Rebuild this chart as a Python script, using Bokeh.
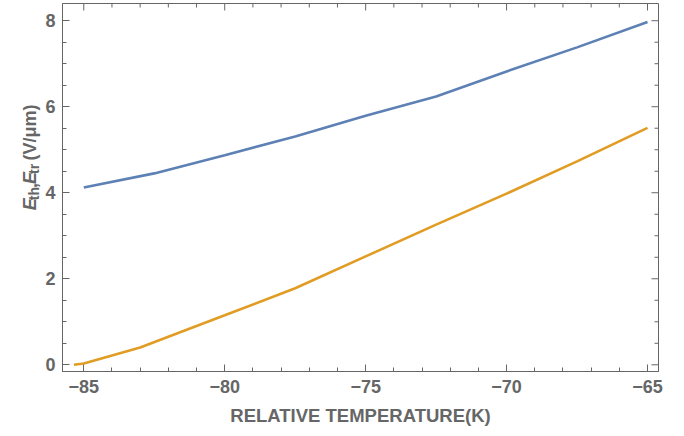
import math
from bokeh.plotting import figure
from bokeh.layouts import row
from bokeh.models import Range1d, FixedTicker, Label
from bokeh.embed import file_html
from bokeh.resources import INLINE

# ---- data ----
temp_th = [-85, -82.5, -80, -77.5, -75, -72.5, -70, -67.5, -65]
e_th = [4.12, 4.45, 4.87, 5.31, 5.79, 6.24, 6.82, 7.38, 7.97]
temp_tr = [-85.35, -85, -83, -80, -77.5, -75, -72.5, -70, -67.5, -65]
e_tr = [0.0, 0.03, 0.40, 1.15, 1.78, 2.52, 3.26, 3.98, 4.73, 5.51]

x_major = [-85, -80, -75, -70, -65]
x_labels = ["\u221285", "\u221280", "\u221275", "\u221270", "\u221265"]
x_minor = [-84, -83, -82, -81, -79, -78, -77, -76, -74, -73, -72, -71, -69, -68, -67, -66]
y_major = [0, 2, 4, 6, 8]
y_labels = ["0", "2", "4", "6", "8"]
y_minor = [0.5, 1, 1.5, 2.5, 3, 3.5, 4.5, 5, 5.5, 6.5, 7, 7.5]

x_title = "RELATIVE TEMPERATURE(K)"
# y title pieces: text, style, size
y_title = [("E", "bold italic", "18px"), ("th", "bold", "14px"), (",", "bold", "18px"),
           ("E", "bold italic", "18px"), ("tr", "bold", "14px"), ("(V/\u03bcm)", "bold", "18px")]

GRAY = "#666666"
FONT = "Liberation Sans"
BLUE = "#5E81B5"
ORANGE = "#E19C24"

X0, X1 = -85.755, -64.61
Y0, Y1 = -0.156, 8.40
W, H = 684, 436
LW = 42                              # width of the strip holding the y title
FL, FR, FT, FB = 62, 658, 3, 371     # frame edges on the page

# ---- strip with the y-axis title (its scale is plain pixels, y up) ----
lab = figure(width=LW, height=H, x_range=Range1d(0, LW), y_range=Range1d(0, H),
             x_axis_type=None, y_axis_type=None,
             output_backend="svg", toolbar_location=None,
             min_border_left=0, min_border_right=0, min_border_top=0, min_border_bottom=0)
lab.grid.visible = False
lab.outline_line_color = None
# anchor (baseline x, start y measured from the top) of each piece, page pixels
anchors = [(29.5, 245), (33.5, 233), (29.5, 218.5), (29.5, 214), (33.5, 202), (29.5, 186)]
for (txt, st, sz), (ax_, ay_) in zip(y_title, anchors):
    lab.add_layout(Label(x=ax_, y=H - ay_, text=txt, angle=math.pi / 2,
                         text_font=FONT, text_font_style=st, text_font_size=sz,
                         text_color=GRAY, text_baseline="alphabetic", text_align="left"))

# ---- main plot ----
p = figure(width=W - LW, height=H,
           x_range=Range1d(X0, X1), y_range=Range1d(Y0, Y1),
           output_backend="svg", toolbar_location=None,
           min_border_left=FL - LW, min_border_right=W - FR,
           min_border_top=FT, min_border_bottom=H - FB)
p.grid.visible = False
p.outline_line_color = GRAY
p.background_fill_color = "white"

def style_axis(ax, ticker, labels):
    ax.ticker = ticker
    ax.axis_line_color = GRAY
    ax.axis_line_width = 1
    ax.major_tick_line_color = GRAY
    ax.minor_tick_line_color = GRAY
    ax.major_tick_in = 7
    ax.major_tick_out = 0
    ax.minor_tick_in = 4
    ax.minor_tick_out = 0
    ax.major_label_text_font = FONT
    ax.major_label_text_font_style = "bold"
    ax.major_label_text_color = GRAY
    ax.major_label_text_font_size = "18px"
    ax.major_label_overrides = labels

style_axis(p.xaxis[0], FixedTicker(ticks=x_major, minor_ticks=x_minor),
           {float(t): l for t, l in zip(x_major, x_labels)})
p.xaxis[0].major_label_standoff = 8
p.xaxis[0].axis_label = x_title
p.xaxis[0].axis_label_text_font = FONT
p.xaxis[0].axis_label_text_font_style = "bold"
p.xaxis[0].axis_label_text_font_size = "18.5px"
p.xaxis[0].axis_label_text_color = GRAY
p.xaxis[0].axis_label_standoff = 9

style_axis(p.yaxis[0], FixedTicker(ticks=y_major, minor_ticks=y_minor),
           {float(t): l for t, l in zip(y_major, y_labels)})
p.yaxis[0].major_label_standoff = 7

# mirrored inward ticks on the top and right frame edges
px_per_x = (FR - FL) / (X1 - X0)
px_per_y = (FB - FT) / (Y1 - Y0)
p.segment(x0=x_major, y0=[Y1] * len(x_major), x1=x_major,
          y1=[Y1 - 7 / px_per_y] * len(x_major), line_color=GRAY, line_width=1)
p.segment(x0=x_minor, y0=[Y1] * len(x_minor), x1=x_minor,
          y1=[Y1 - 4 / px_per_y] * len(x_minor), line_color=GRAY, line_width=1)
p.segment(x0=[X1] * len(y_major), y0=y_major, x1=[X1 - 7 / px_per_x] * len(y_major),
          y1=y_major, line_color=GRAY, line_width=1)
p.segment(x0=[X1] * len(y_minor), y0=y_minor, x1=[X1 - 4 / px_per_x] * len(y_minor),
          y1=y_minor, line_color=GRAY, line_width=1)

p.line(temp_th, e_th, line_color=BLUE, line_width=2.6)
p.line(temp_tr, e_tr, line_color=ORANGE, line_width=2.6)

layout = row(lab, p, spacing=0)
open("out.html", "w").write(file_html(layout, INLINE))
